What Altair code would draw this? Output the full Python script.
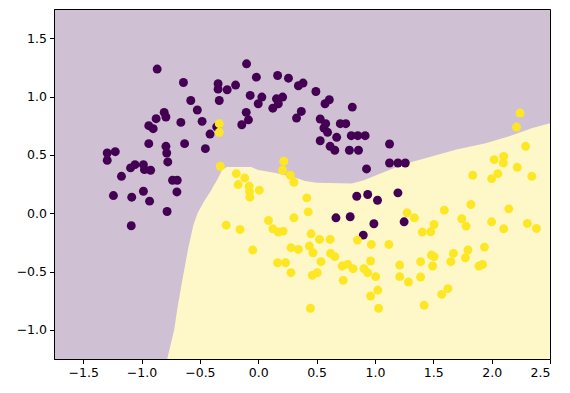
import altair as alt
import pandas as pd

# class 0 (purple) points
purple_x = [-0.866, -0.641, -0.578, -0.522, -0.481, -0.413, -0.453, -0.356, -0.663, -0.631,
            -0.806, -0.791, -0.875, -0.938, -0.900, -0.938, -0.791, -0.784, -0.775, -1.294,
            -1.294, -1.225, -1.172, -1.094, -1.056, -0.984, -0.975, -0.922, -1.241, -1.084,
            -0.984, -0.931, -0.734, -0.694, -0.697, -0.781, -1.088,
            -0.344, -0.344, -0.266, -0.194, -0.100, -0.016, -0.334, 0.166, 0.259, 0.344, 0.384,
            -0.069, 0.031, 0.000, 0.156, 0.209, 0.125, 0.172, -0.103, -0.084, -0.141,
            0.494, 0.609, 0.572, 0.369, 0.328, 0.531, 0.578, 0.563, 0.594, 0.672, 0.531, 0.616,
            0.656, 0.703, 0.750, 0.806, 0.797, 0.853, 0.916, 0.781, 0.859, 1.125, 0.928,
            1.125, 1.197, 1.260,
            0.844, 0.938, 1.022, 1.197, 0.666, 0.788, 0.991, 1.250, 0.900]
purple_y = [1.235, 1.120, 0.966, 0.884, 0.787, 0.678, 0.553, 0.740, 0.778, 0.596,
            0.864, 0.824, 0.810, 0.750, 0.724, 0.596, 0.573, 0.516, 0.439, 0.453,
            0.516, 0.527, 0.316, 0.388, 0.416, 0.416, 0.373, 0.368, 0.151, 0.137,
            0.188, 0.103, 0.282, 0.282, 0.182, 0.014, -0.108,
            1.109, 1.063, 1.058, 1.098, 1.280, 1.166, 0.966, 1.180, 1.157, 1.092, 1.115,
            1.009, 0.995, 0.938, 0.980, 0.995, 0.900, 0.938, 0.864, 0.800, 0.758,
            1.043, 0.972, 0.938, 0.872, 0.815, 0.807, 0.767, 0.730, 0.693, 0.650, 0.621, 0.573,
            0.539, 0.767, 0.767, 0.909, 0.664, 0.664, 0.664, 0.539, 0.539, 0.593, 0.379,
            0.430, 0.430, 0.430,
            0.145, 0.160, 0.111, 0.174, -0.040, -0.031, -0.091, -0.074, -0.188]

# class 1 (yellow) points
yellow_x = [-0.334, -0.334, -0.325, 0.219, 0.209, 0.275, 0.306, -0.188, -0.116, -0.172,
            -0.078, 0.009, -0.072, -0.075, -0.275, -0.156, -0.047, 0.416, 0.428, 0.306,
            0.088, 0.125, 0.172, 0.213, 0.453, 0.525, 0.616, 0.438, 0.469, 0.281,
            0.344, 0.619, 0.656, 0.538, 0.166, 0.234, 0.281, 0.463, 0.506, 0.447,
            0.719, 0.766, 0.813, 0.728, 0.850, 0.969, 0.963, 0.906, 0.938, 1.006,
            1.025, 0.963, 1.031, 1.119, 1.212, 1.212, 1.287, 1.391, 1.391, 1.422,
            1.275, 1.338, 1.406, 1.478, 1.506, 1.484, 1.506, 1.494, 1.594, 1.572,
            1.625, 1.650, 1.672, 1.744, 1.781, 1.822, 1.797, 1.775, 1.891, 1.922,
            1.938, 2.000, 2.103, 2.147, 2.306, 2.384, 1.838, 2.000, 2.053, 2.022,
            2.103, 2.100, 2.219, 2.291, 2.344, 2.213, 2.244]
yellow_y = [0.767, 0.693, 0.402, 0.445, 0.368, 0.325, 0.265, 0.339, 0.302, 0.245,
            0.231, 0.197, 0.137, 0.185, -0.103, -0.140, -0.316, 0.131, 0.011, -0.040,
            -0.063, -0.134, -0.162, -0.154, -0.177, -0.225, -0.225, -0.282, -0.339, -0.296,
            -0.311, -0.345, -0.373, -0.416, -0.425, -0.425, -0.510, -0.533, -0.510, -0.815,
            -0.453, -0.439, -0.476, -0.576, -0.231, -0.268, -0.410, -0.476, -0.510, -0.544,
            -0.659, -0.710, -0.815, -0.268, -0.445, -0.544, -0.590, -0.416, -0.547, -0.790,
            0.003, -0.040, -0.162, -0.160, -0.097, -0.359, -0.373, -0.453, 0.026, -0.696,
            -0.647, -0.416, -0.345, -0.048, -0.111, 0.074, -0.316, -0.382, -0.453, -0.439,
            -0.291, -0.074, -0.134, 0.037, -0.088, -0.131, 0.325, 0.296, 0.339, 0.459,
            0.487, 0.430, 0.393, 0.573, 0.316, 0.738, 0.858]

# decision boundary: left edge of the yellow region (x as a function of y)
left_y = [-1.25, -1.0, -0.8, -0.6, -0.3, -0.1, 0.0, 0.1, 0.2, 0.25]
left_x = [-0.78, -0.72, -0.69, -0.655, -0.60, -0.555, -0.52, -0.465, -0.40, -0.372]
# decision boundary: top edge of the yellow region (y as a function of x)
top_x = [-0.40, -0.372, -0.345, -0.31, -0.27, -0.06, 0.0, 0.15, 0.3, 0.4, 0.5, 0.8,
         0.9, 1.0, 1.15, 1.3, 1.5, 1.7, 1.95, 2.15, 2.35, 2.5]
top_y = [0.20, 0.25, 0.30, 0.37, 0.395, 0.395, 0.37, 0.345, 0.31, 0.275, 0.26, 0.255,
         0.28, 0.32, 0.38, 0.435, 0.49, 0.545, 0.60, 0.66, 0.73, 0.77]

x_ticks = [-1.5, -1.0, -0.5, 0.0, 0.5, 1.0, 1.5, 2.0, 2.5]
y_ticks = [-1.0, -0.5, 0.0, 0.5, 1.0, 1.5]

PURPLE = "#440154"
YELLOW = "#FDE725"
BG_PURPLE = "#D0C0D4"
BG_YELLOW = "#FEF8C8"

xs = alt.Scale(domain=[-1.75, 2.5], nice=False, zero=False)
ys = alt.Scale(domain=[-1.25, 1.75], nice=False, zero=False)
xax = alt.Axis(values=x_ticks, format=".1f", title=None, grid=False)
yax = alt.Axis(values=y_ticks, format=".1f", title=None, grid=False)

left_df = pd.DataFrame({"ly": left_y, "lx": left_x, "lx2": [2.5] * len(left_y)})
top_df = pd.DataFrame({"tx": top_x, "ty": top_y, "ty2": [0.2] * len(top_x)})
pts = pd.DataFrame({
    "x": purple_x + yellow_x,
    "y": purple_y + yellow_y,
    "cls": ["0"] * len(purple_x) + ["1"] * len(yellow_x),
    "ord": [0] * len(purple_x) + [1] * len(yellow_x),
})

areaA = alt.Chart(left_df).mark_area(orient="horizontal", color=BG_YELLOW, opacity=1, clip=True).encode(
    y=alt.Y("ly:Q", scale=ys, axis=yax),
    x=alt.X("lx:Q", scale=xs, axis=xax, stack=None),
    x2="lx2:Q",
)
areaB = alt.Chart(top_df).mark_area(orient="vertical", color=BG_YELLOW, opacity=1, clip=True).encode(
    x=alt.X("tx:Q", scale=xs, axis=xax),
    y=alt.Y("ty:Q", scale=ys, axis=yax, stack=None),
    y2="ty2:Q",
)
points = alt.Chart(pts).mark_circle(size=80, opacity=1).encode(
    x=alt.X("x:Q", scale=xs, axis=xax),
    y=alt.Y("y:Q", scale=ys, axis=yax),
    color=alt.Color("cls:N", scale=alt.Scale(domain=["0", "1"], range=[PURPLE, YELLOW]), legend=None),
    order="ord:Q",
)

chart = alt.layer(areaA, areaB, points).properties(
    width=496, height=350,
    autosize=alt.AutoSizeParams(type="none"),
    padding={"left": 46, "top": 1, "right": 10, "bottom": 20},
).configure_view(
    fill=BG_PURPLE, stroke="black", strokeWidth=1
).configure_axis(
    labelFont="DejaVu Sans", labelFontSize=12.5, labelColor="black",
    tickColor="black", domainColor="black", tickSize=4.5, tickWidth=1,
    domainWidth=1, labelPadding=3,
)

chart.save("out.html", embed_options={"renderer": "svg", "actions": False})
